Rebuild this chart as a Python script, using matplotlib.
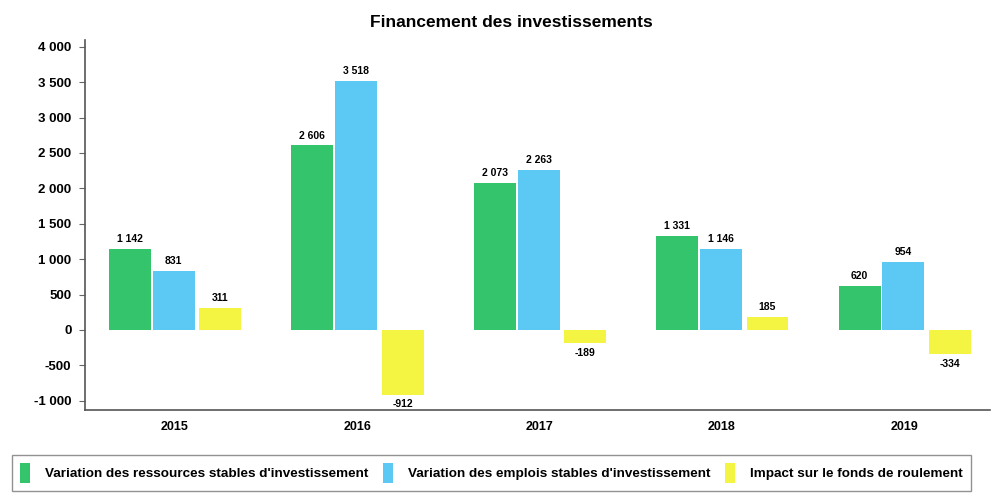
import matplotlib
matplotlib.use('Agg')
import matplotlib.pyplot as plt
import numpy as np

plt.rcParams['font.family'] = ['Liberation Sans', 'DejaVu Sans']

years = ['2015', '2016', '2017', '2018', '2019']
ressources = [1142, 2606, 2073, 1331, 620]
emplois = [831, 3518, 2263, 1146, 954]
impact = [311, -912, -189, 185, -334]
series_names = ["Variation des ressources stables d'investissement",
                "Variation des emplois stables d'investissement",
                "Impact sur le fonds de roulement"]
colors = ['#34c46c', '#5cc9f5', '#f4f542']
yticks = [-1000, -500, 0, 500, 1000, 1500, 2000, 2500, 3000, 3500, 4000]


def fmt(v):
    # french style thousands separator
    s = f"{abs(v):,}".replace(',', ' ')
    return ('-' if v < 0 else '') + s


fig = plt.figure(figsize=(9.92, 4.97), dpi=100)
ax = fig.add_axes([0.086, 0.175, 0.912, 0.745])

x = np.arange(len(years))
width = 0.23
offsets = [-0.245, -0.005, 0.25]

for vals, off, col, name in zip([ressources, emplois, impact], offsets, colors, series_names):
    bars = ax.bar(x + off, vals, width, color=col, label=name)
    for b, v in zip(bars, vals):
        if v >= 0:
            ax.text(b.get_x() + b.get_width() / 2, v + 70, fmt(v), ha='center', va='bottom',
                    fontsize=7.5, fontweight='bold')
        else:
            ax.text(b.get_x() + b.get_width() / 2, v - 70, fmt(v), ha='center', va='top',
                    fontsize=7.5, fontweight='bold')

ax.set_xlim(-0.49, 4.47)
ax.set_ylim(-1131, 4099)
ax.set_yticks(yticks)
ax.set_yticklabels([fmt(t) for t in yticks], fontsize=9.5, fontweight='bold')
ax.set_xticks(x)
ax.set_xticklabels(years, fontsize=9, fontweight='bold')
ax.tick_params(axis='x', length=0, pad=8)
ax.tick_params(axis='y', length=4, color='#666666', pad=6)

for s in ['top', 'right']:
    ax.spines[s].set_visible(False)
ax.spines['left'].set_color('#555555')
ax.spines['bottom'].set_color('#555555')
ax.spines['left'].set_linewidth(1.2)
ax.spines['bottom'].set_linewidth(1.2)

fig.text(0.515, 0.955, 'Financement des investissements', ha='center', va='center',
         fontsize=12.5, fontweight='bold')

leg = fig.legend(loc='center left', bbox_to_anchor=(0.012, 0.048), ncol=3, frameon=True,
                 fancybox=False, edgecolor='#777777', prop={'size': 9.7, 'weight': 'bold'},
                 handlelength=0.75, handleheight=1.9, handletextpad=1.1, columnspacing=1.1,
                 borderpad=0.6, borderaxespad=0)

plt.savefig('out.png', dpi=100)
